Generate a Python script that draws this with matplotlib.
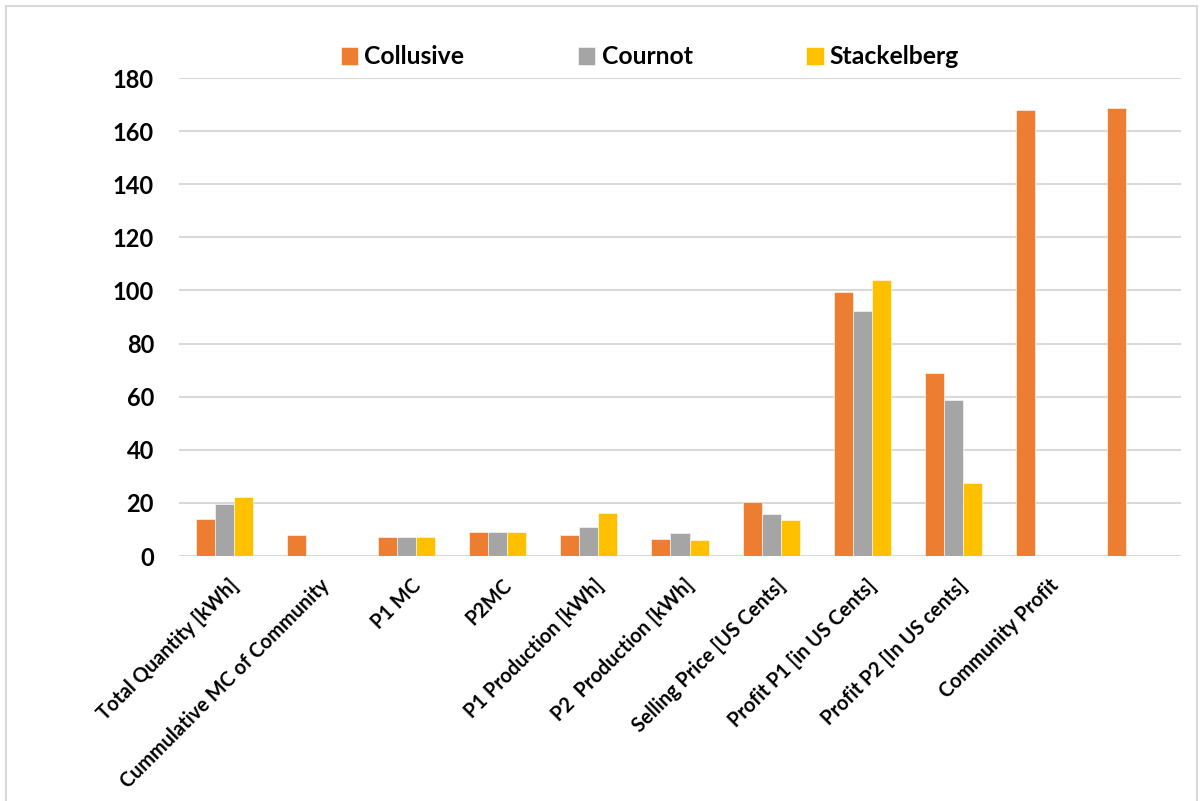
import matplotlib
matplotlib.use("Agg")
import matplotlib.pyplot as plt
import matplotlib.transforms as mtransforms
import numpy as np
from matplotlib.patches import Rectangle

categories = ["Total Quantity [kWh]", "Cummulative MC of Community", "P1 MC", "P2MC",
              "P1 Production [kWh]", "P2  Production [kWh]", "Selling Price [US Cents]",
              "Profit P1 [in US Cents]", "Profit P2 [In US cents]", "Community Profit", ""]
collusive = [13.9, 7.8, 7.0, 8.9, 7.8, 6.3, 20.2, 99.6, 69.0, 167.8, 168.7]
cournot = [19.4, 0, 7.0, 8.9, 10.9, 8.8, 15.7, 92.4, 58.6, 0, 0]
stackelberg = [22.1, 0, 7.0, 8.9, 16.3, 5.9, 13.5, 103.9, 27.6, 0, 0]
series_names = ["Collusive", "Cournot", "Stackelberg"]
colors = ["#ED7D31", "#A5A5A5", "#FFC000"]
yticks = [0, 20, 40, 60, 80, 100, 120, 140, 160, 180]

plt.rcParams['font.family'] = ['Lato', 'DejaVu Sans']
plt.rcParams['font.weight'] = 'bold'

W, H = 1203, 801
fig = plt.figure(figsize=(W / 100, H / 100), dpi=100)
fig.patches.append(Rectangle((6 / W, -0.01), (1197 - 6) / W, 1 - 6 / H + 0.01,
                             transform=fig.transFigure, fill=False,
                             edgecolor="#D9D9D9", linewidth=1.5))

ax = fig.add_axes([179 / W, 1 - 556 / H, (1181 - 179) / W, (556 - 78) / H])
x = np.arange(len(categories))
bw = 0.209
for i, (vals, name, c) in enumerate(zip([collusive, cournot, stackelberg], series_names, colors)):
    ax.bar(x + (i - 1) * bw, vals, width=bw, color=c, label=name,
           edgecolor="white", linewidth=0.4, zorder=3)

ax.set_xlim(-0.5, len(categories) - 0.5)
ax.set_ylim(0, 180)
ax.set_yticks(yticks)
ax.set_yticklabels([str(v) for v in yticks], fontsize=17, fontweight='bold')
ax.yaxis.grid(True, color="#D9D9D9", linewidth=1.5, zorder=0)
ax.set_axisbelow(True)
for s in ax.spines.values():
    s.set_visible(False)
ax.tick_params(axis='y', length=0, pad=18)
ax.tick_params(axis='x', length=0, pad=14)
ax.set_xticks(x)
ax.set_xticklabels(categories, rotation=45, ha='right', va='top', rotation_mode='anchor',
                   fontsize=14.3, fontweight='bold')
shift = mtransforms.ScaledTranslation(4 / 100, 0, fig.dpi_scale_trans)
for lab in ax.get_xticklabels():
    lab.set_transform(lab.get_transform() + shift)

handles, labels = ax.get_legend_handles_labels()
fig.legend(handles, labels, loc='center', ncol=3, bbox_to_anchor=(650 / W, 1 - 57 / H),
           frameon=False, handlelength=0.7, handleheight=0.7,
           handletextpad=0.25, columnspacing=4.6, prop={'weight': 'bold', 'size': 17.8})

fig.savefig("out.png", dpi=100, facecolor="white")
